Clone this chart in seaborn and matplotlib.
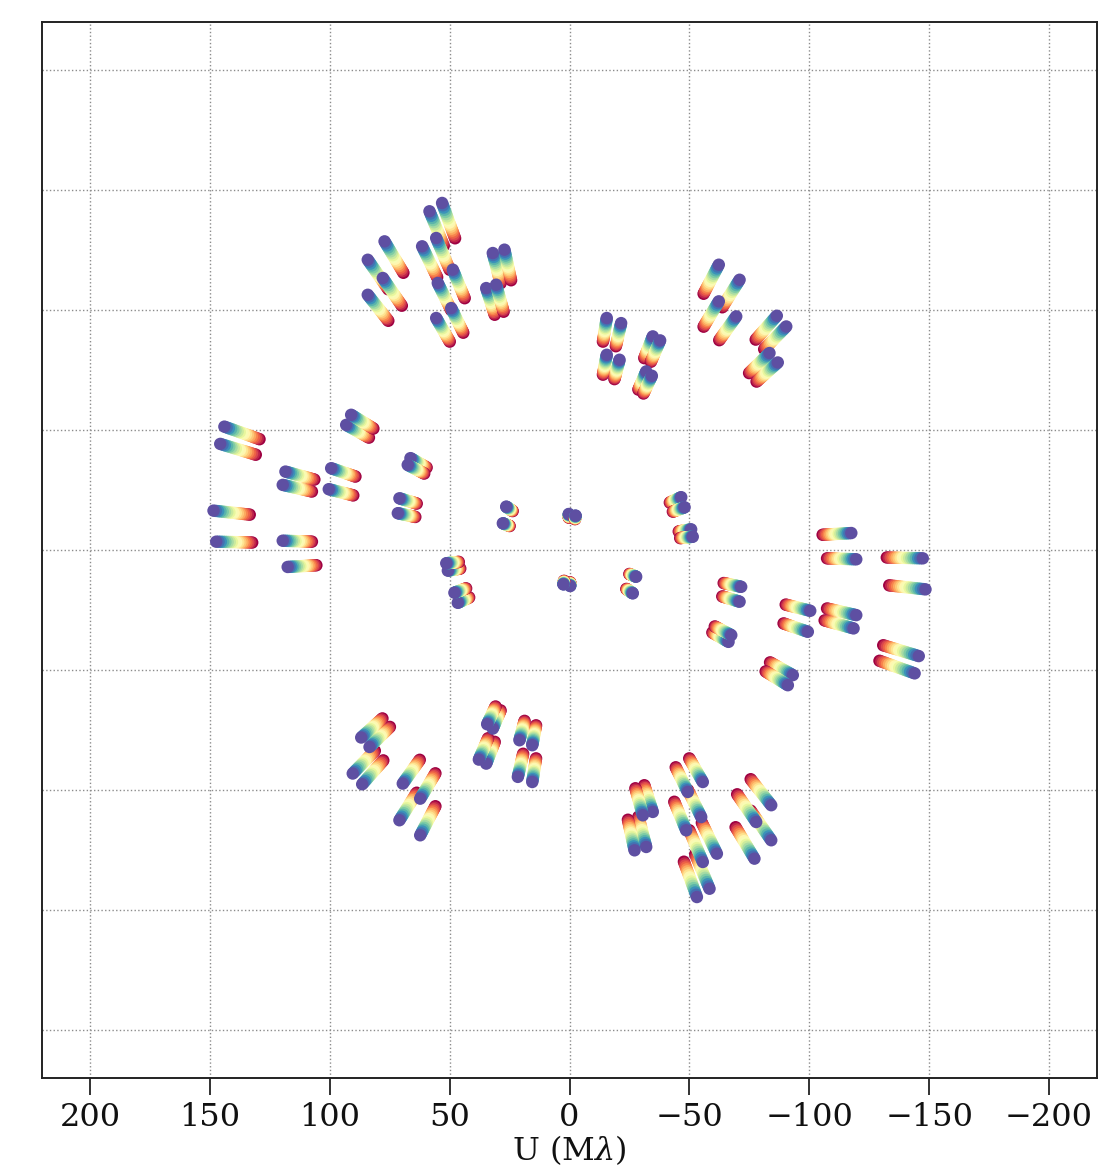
import numpy as np
import pandas as pd
import matplotlib
matplotlib.use("Agg")
import matplotlib.pyplot as plt
import seaborn as sns

# Spectral channels (micron)
wavelengths = [1.50, 1.51, 1.52, 1.53, 1.54, 1.55, 1.56, 1.57, 1.58,
               1.59, 1.60, 1.61, 1.62, 1.63, 1.64, 1.65, 1.66, 1.67]

# Projected baselines (metres), one entry per exposure
u_m = [115.7, 126.2, 116.8, 126.2, 87.6, 79.7, 92.2, 83.4, 82.4, 73.0,
       83.4, 74.0, 48.0, 40.7, 52.1, 45.9, -23.3, -32.3, -23.3, -31.3,
       -52.1, -56.7, -48.0, -51.5, -93.4, -106.4, -93.4, -104.3, -129.7, -135.6,
       -125.1, -130.3, 215.9, 218.5, 177.7, 179.4, 149.1, 150.6, 139.7, 136.6,
       99.5, 101.2, 106.4, 107.4, 222.7, 221.0, 179.4, 39.6, 41.7, 0.4,
       -3.8, -69.9, -72.0, -76.1, -77.1, -176.3]
v_m = [192.9, 181.4, 170.0, 159.5, 211.7, 216.9, 189.8, 195.0, 166.9, 175.2,
       145.0, 151.2, 185.6, 187.7, 163.7, 165.8, 145.0, 141.8, 122.0, 118.9,
       133.5, 131.0, 111.6, 108.9, 178.3, 168.9, 155.4, 146.0, 146.4, 139.7,
       123.1, 117.2, 77.1, 66.3, 49.0, 40.7, 51.1, 38.0, 78.2, 84.5,
       57.4, 53.2, 32.3, 23.0, 24.6, 5.2, 5.8, 27.1, 16.7, 22.5,
       21.5, 33.0, 26.7, 12.9, 8.3, 10.6]

# Spatial frequencies in Mlambda for each baseline and its conjugate,
# each track ordered from the longest to the shortest wavelength
lam_desc = sorted(wavelengths, reverse=True)
rows = []
for sign in (1, -1):
    for bu, bv in zip(u_m, v_m):
        for lam in lam_desc:
            rows.append((sign * bu / lam, sign * bv / lam, lam))
df = pd.DataFrame(rows, columns=["U", "V", "lam"])

sns.set_theme(style="ticks")
plt.rcParams["font.family"] = ["DejaVu Serif"]
plt.rcParams["mathtext.fontset"] = "dejavuserif"

fig = plt.figure(figsize=(11.06, 11.71), dpi=100)
ax = fig.add_axes([42 / 1106, 1 - 1078 / 1171, 1055 / 1106, 1056 / 1171])

sns.scatterplot(data=df, x="U", y="V", hue="lam", palette="Spectral_r",
                s=80, linewidth=0, legend=False, ax=ax, zorder=3)

ax.set_xlim(220, -220)
ax.set_ylim(-220, 220)
ticks = [200, 150, 100, 50, 0, -50, -100, -150, -200]
ax.set_xticks(ticks)
ax.set_yticks(ticks)
ax.grid(True, linestyle=":", color="#8c8c8c", linewidth=1.0, zorder=0)
ax.set_axisbelow(True)
ax.tick_params(axis="x", labelsize=23, length=12, width=1.3, color="#222222",
               labelcolor="#111111", pad=5)
ax.tick_params(axis="y", left=False, labelleft=False)
ax.set_xlabel(r"U (M$\lambda$)", fontsize=23, labelpad=0, color="#111111")
ax.set_ylabel("")
for sp in ax.spines.values():
    sp.set_color("#222222")
    sp.set_linewidth(1.4)

fig.savefig("out.png", dpi=100)
